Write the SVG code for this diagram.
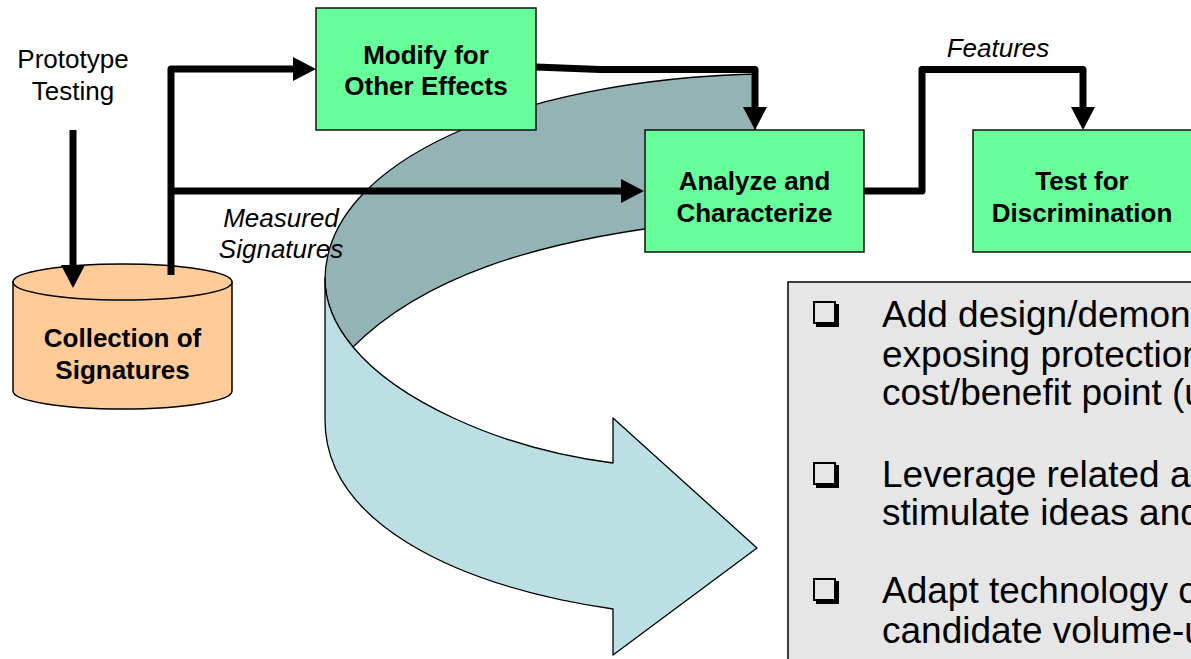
<svg xmlns="http://www.w3.org/2000/svg" width="1191" height="659" viewBox="0 0 1191 659">
  <defs>
    <style>
      .label { font-family: "Liberation Sans", Arial, sans-serif; font-size: 26px; fill: #000; }
      .node-text { font-family: "Liberation Sans", Arial, sans-serif; font-size: 26px; font-weight: bold; fill: #000; text-anchor: middle; }
      .step { fill: #66FF99; stroke: #111; stroke-width: 1.5; }
      .flow { fill: none; stroke: #000; stroke-width: 7; stroke-linejoin: round; }
      .bullet-text { font-family: "Liberation Sans", Arial, sans-serif; font-size: 37px; fill: #000; }
      .ribbon { stroke: #000; stroke-width: 1.3; stroke-linejoin: round; }
    </style>
    <marker id="head" markerUnits="userSpaceOnUse" markerWidth="24" markerHeight="24" refX="0" refY="12" orient="auto" overflow="visible">
      <path d="M0,0 L23,12 L0,24 Z" fill="#000"/>
    </marker>
    <!-- shadowed square list marker -->
    <g id="square-bullet">
      <rect x="1" y="1" width="21" height="21" fill="none" stroke="#000" stroke-width="2"/>
      <rect x="3" y="22" width="23" height="4" fill="#000"/>
      <rect x="22" y="3" width="4" height="23" fill="#000"/>
    </g>
  </defs>

  <rect width="1191" height="659" fill="#fff"/>

  <!-- large curved transition arrow -->
  <g id="curved-arrow">
    <path class="ribbon" fill="#94B3B5" d="M755,74 C520,80 325,160 325,280 C325,305 337,328 353,347 C420,280 530,240 700,222 L755,222 Z"/>
    <path class="ribbon" fill="#BCDFE3" d="M325,278 C325,305 337,328 353,347 C395,398 495,448 613,463 L613,418 L757,548 L613,655 L613,609 C450,585 325,520 325,420 Z"/>
  </g>

  <!-- notes panel -->
  <g id="notes">
    <rect x="788" y="282" width="420" height="400" fill="#E6E6E6" stroke="#000" stroke-width="1.5"/>
    <use href="#square-bullet" x="813" y="301"/>
    <use href="#square-bullet" x="813" y="462"/>
    <use href="#square-bullet" x="813" y="578"/>
    <text class="bullet-text" x="882" y="327">Add design/demon</text>
    <text class="bullet-text" x="882" y="367">exposing protection</text>
    <text class="bullet-text" x="882" y="405">cost/benefit point (u</text>
    <text class="bullet-text" x="882" y="487">Leverage related a</text>
    <text class="bullet-text" x="882" y="525">stimulate ideas and</text>
    <text class="bullet-text" x="882" y="603">Adapt technology c</text>
    <text class="bullet-text" x="882" y="643">candidate volume-u</text>
  </g>

  <!-- signature store -->
  <g id="collection">
    <path d="M13,282 L13,391 A109.5,18 0 0 0 232,391 L232,282 Z" fill="#FFCC99" stroke="#000" stroke-width="1.5"/>
    <ellipse cx="122.5" cy="282" rx="109.5" ry="18" fill="#FFCC99" stroke="#000" stroke-width="1.5"/>
    <text class="node-text" x="122.5" y="347">Collection of</text>
    <text class="node-text" x="122.5" y="379">Signatures</text>
  </g>

  <g id="modify">
    <rect class="step" x="316" y="8" width="220" height="122"/>
    <text class="node-text" x="426" y="64">Modify for</text>
    <text class="node-text" x="426" y="95">Other Effects</text>
  </g>

  <g id="analyze">
    <rect class="step" x="645" y="130" width="219" height="122"/>
    <text class="node-text" x="754.5" y="190">Analyze and</text>
    <text class="node-text" x="754.5" y="222">Characterize</text>
  </g>

  <g id="test">
    <rect class="step" x="973" y="130" width="230" height="122"/>
    <text class="node-text" x="1082" y="190">Test for</text>
    <text class="node-text" x="1082" y="222">Discrimination</text>
  </g>

  <!-- connectors -->
  <g id="connectors">
    <path class="flow" d="M73,130 L73,265" marker-end="url(#head)"/>
    <path class="flow" d="M171,275 L171,69 L293,69" marker-end="url(#head)"/>
    <path class="flow" d="M171,191 L621,191" marker-end="url(#head)"/>
    <path class="flow" d="M536,67 L600,69.5 L755,69.5 L755,107" marker-end="url(#head)"/>
    <path class="flow" d="M864,191 L922,191 L922,69.5 L1083,69.5 L1083,107" marker-end="url(#head)"/>
  </g>

  <!-- free labels -->
  <g id="labels">
    <text class="label" x="73" y="68" text-anchor="middle">Prototype</text>
    <text class="label" x="73" y="100" text-anchor="middle">Testing</text>
    <text class="label" x="281" y="227" text-anchor="middle" font-style="italic">Measured</text>
    <text class="label" x="281" y="258" text-anchor="middle" font-style="italic">Signatures</text>
    <text class="label" x="998" y="57" text-anchor="middle" font-style="italic">Features</text>
  </g>
</svg>
